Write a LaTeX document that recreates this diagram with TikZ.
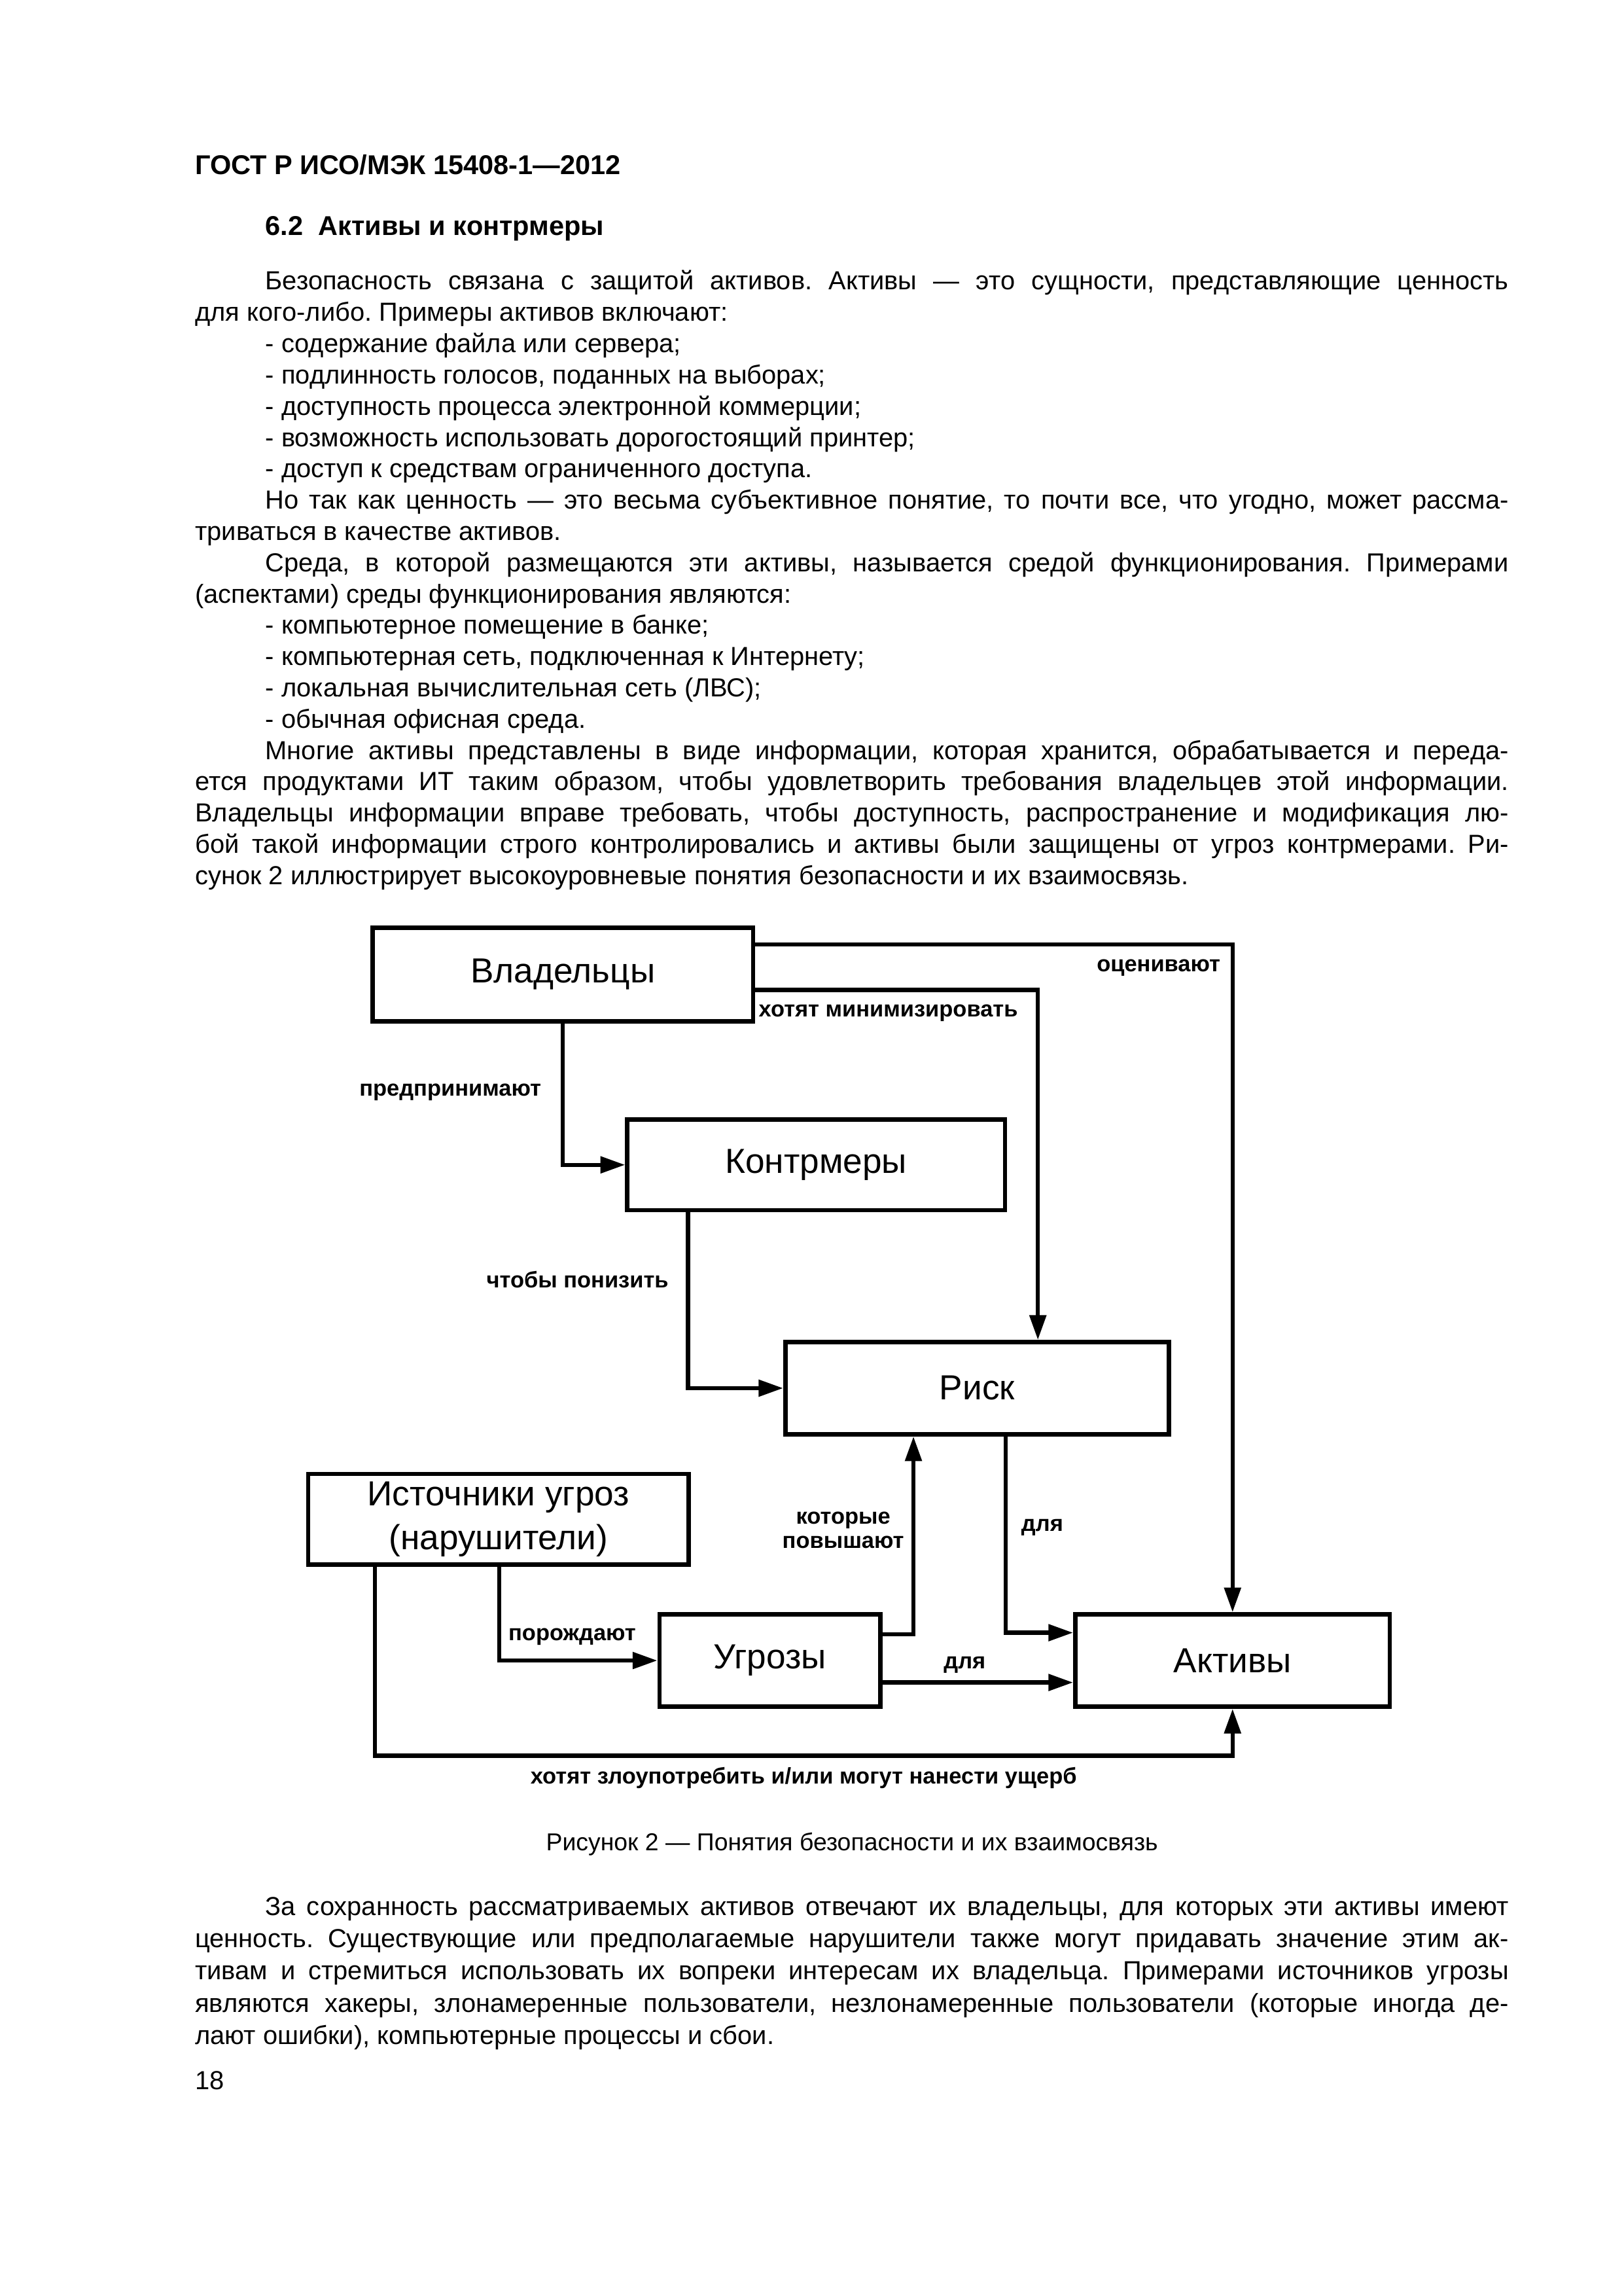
\documentclass[tikz,border=0pt]{standalone}
\usepackage{fontspec}
\setmainfont{Liberation Sans}
\usetikzlibrary{arrows.meta, calc}
\frenchspacing

%% justified lines: indented and full width
\newcommand{\jind}[1]{\makebox[16.08cm][s]{#1}}
\newcommand{\jfull}[1]{\makebox[16.99cm][s]{#1}}

\begin{document}
\begin{tikzpicture}[x=0.018936cm, y=-0.018936cm,
        txt/.style={anchor=base west, inner sep=0, font=\fontsize{9.6}{11.5}\selectfont},
        box/.style={draw, line width=1.55pt, inner sep=0, align=center,
            font=\fontsize{12.8}{16}\selectfont},
        lbl/.style={inner sep=0, align=center, font=\fontsize{8.3}{9}\selectfont\bfseries},
        arr/.style={draw, line width=1.55pt, -{Triangle[length=0.32cm, width=0.21cm]}}
        ]

        %% Page
        \useasboundingbox (0,0) rectangle (1109,1568);
        \fill[white] (0,0) rectangle (1109,1568);

        %% ---- Header and section title ----
        \node[txt, font=\fontsize{10}{11.5}\selectfont\bfseries] (hdr) at (133,119) {ГОСТ Р ИСО/МЭК 15408-1—2012};
        \node[txt, font=\fontsize{10}{11.5}\selectfont\bfseries] (sec) at (181,160.5) {6.2\ \ Активы и контрмеры};

        %% ---- Text above the figure ----
        \node[txt] (l0)  at (181,198.0) {\jind{Безопасность связана с защитой активов. Активы — это сущности, представляющие ценность}};
        \node[txt] (l1)  at (133,219.4) {для кого-либо. Примеры активов включают:};
        \node[txt] (l2)  at (181,240.7) {- содержание файла или сервера;};
        \node[txt] (l3)  at (181,262.1) {- подлинность голосов, поданных на выборах;};
        \node[txt] (l4)  at (181,283.5) {- доступность процесса электронной коммерции;};
        \node[txt] (l5)  at (181,304.9) {- возможность использовать дорогостоящий принтер;};
        \node[txt] (l6)  at (181,326.2) {- доступ к средствам ограниченного доступа.};
        \node[txt] (l7)  at (181,347.6) {\jind{Но так как ценность — это весьма субъективное понятие, то почти все, что угодно, может рассма-}};
        \node[txt] (l8)  at (133,369.0) {триваться в качестве активов.};
        \node[txt] (l9)  at (181,390.3) {\jind{Среда, в которой размещаются эти активы, называется средой функционирования. Примерами}};
        \node[txt] (l10) at (133,411.7) {(аспектами) среды функционирования являются:};
        \node[txt] (l11) at (181,433.1) {- компьютерное помещение в банке;};
        \node[txt] (l12) at (181,454.4) {- компьютерная сеть, подключенная к Интернету;};
        \node[txt] (l13) at (181,475.8) {- локальная вычислительная сеть (ЛВС);};
        \node[txt] (l14) at (181,497.2) {- обычная офисная среда.};
        \node[txt] (l15) at (181,518.6) {\jind{Многие активы представлены в виде информации, которая хранится, обрабатывается и переда-}};
        \node[txt] (l16) at (133,539.9) {\jfull{ется продуктами ИТ таким образом, чтобы удовлетворить требования владельцев этой информации.}};
        \node[txt] (l17) at (133,561.3) {\jfull{Владельцы информации вправе требовать, чтобы доступность, распространение и модификация лю-}};
        \node[txt] (l18) at (133,582.7) {\jfull{бой такой информации строго контролировались и активы были защищены от угроз контрмерами. Ри-}};
        \node[txt] (l19) at (133,604.0) {сунок 2 иллюстрирует высокоуровневые понятия безопасности и их взаимосвязь.};

        %% ---- Boxes ----
        \node[box, minimum width=4.923cm, minimum height=1.212cm] (vlad)   at (384.5,665.5) {Владельцы};
        \node[box, minimum width=4.885cm, minimum height=1.174cm] (kontr)  at (557.5,795.5) {Контрмеры};
        \node[box, minimum width=4.961cm, minimum height=1.193cm] (risk)   at (667.5,948)   {Риск};
        \node[box, minimum width=4.923cm, minimum height=1.174cm] (istoch) at (340.5,1037.5) {Источники угроз\\(нарушители)};
        \node[box, minimum width=2.859cm, minimum height=1.193cm] (ugroz)  at (526,1134)    {Угрозы};
        \node[box, minimum width=4.071cm, minimum height=1.193cm] (aktiv)  at (842,1134)    {Активы};

        %% ---- Connectors ----
        \draw[arr] ($(vlad.east)+(0,-20.5)$) -| (aktiv.north);
        \draw[arr] ($(vlad.east)+(0,10.5)$) -| ($(risk.north)+(41.5,0)$);
        \draw[arr] (vlad.south) |- (kontr.west);
        \draw[arr] ($(kontr.south)+(-87.5,0)$) |- (risk.west);
        \draw[arr] ($(ugroz.east)+(0,-18)$) -| ($(risk.south)+(-43.5,0)$);
        \draw[arr] ($(risk.south)+(19.5,0)$) |- ($(aktiv.west)+(0,-19)$);
        \draw[arr] ($(ugroz.east)+(0,15)$) -- ($(aktiv.west)+(0,15)$);
        \draw[arr] ($(istoch.south)+(0.5,0)$) |- (ugroz.west);
        \coordinate (dno) at (842,1199);
        \draw[arr] ($(istoch.south)+(-84.5,0)$) |- (dno) -- (aktiv.south);

        %% ---- Connector labels ----
        \node[lbl, anchor=east] (lOcen)  at (834,661)  {оценивают};
        \node[lbl, anchor=west] (lMin)   at (518,692)  {хотят минимизировать};
        \node[lbl, anchor=east] (lPred)  at (370,746)  {предпринимают};
        \node[lbl, anchor=east] (lPoniz) at (457,874)  {чтобы понизить};
        \node[lbl]              (lPov)   at (576,1045) {которые\\повышают};
        \node[lbl]              (lDlya1) at (712,1043) {для};
        \node[lbl]              (lDlya2) at (659,1137) {для};
        \node[lbl, anchor=west] (lPor)   at (347,1118) {порождают};
        \node[lbl]              (lZlo)   at (549,1214) {хотят злоупотребить и/или могут нанести ущерб};

        %% ---- Caption ----
        \node[anchor=base, inner sep=0, font=\fontsize{9}{11}\selectfont] (cap) at (582,1264) {Рисунок 2 — Понятия безопасности и их взаимосвязь};

        %% ---- Text below the figure ----
        \node[txt] (m0) at (181,1308) {\jind{За сохранность рассматриваемых активов отвечают их владельцы, для которых эти активы имеют}};
        \node[txt] (m1) at (133,1330) {\jfull{ценность. Существующие или предполагаемые нарушители также могут придавать значение этим ак-}};
        \node[txt] (m2) at (133,1352) {\jfull{тивам и стремиться использовать их вопреки интересам их владельца. Примерами источников угрозы}};
        \node[txt] (m3) at (133,1374) {\jfull{являются хакеры, злонамеренные пользователи, незлонамеренные пользователи (которые иногда де-}};
        \node[txt] (m4) at (133,1396) {лают ошибки), компьютерные процессы и сбои.};
        \node[txt] (pg) at (133,1427) {18};

    \end{tikzpicture}
\end{document}
